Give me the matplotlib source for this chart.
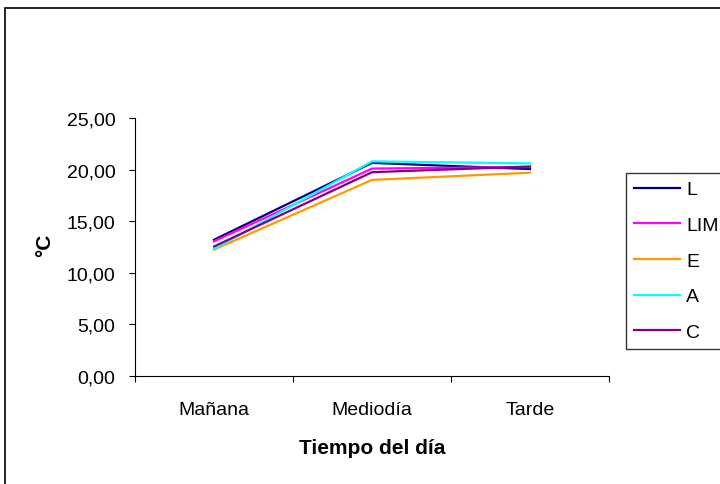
import matplotlib.pyplot as plt
from matplotlib.patches import Rectangle
from matplotlib.ticker import FuncFormatter

plt.rcParams['font.family'] = ['Liberation Sans', 'DejaVu Sans']

momentos = ['Mañana', 'Mediodía', 'Tarde']
L = [13.2, 20.65, 20.05]
LIM = [13.05, 20.1, 20.25]
E = [12.25, 19.0, 19.7]
A = [12.3, 20.8, 20.6]
C = [12.55, 19.75, 20.3]

series = [('L', L, '#000080'), ('LIM', LIM, '#FF00FF'), ('E', E, '#FF9900'),
          ('A', A, '#00FFFF'), ('C', C, '#800080')]

fig = plt.figure(figsize=(7.2, 4.85), dpi=100)
ax = fig.add_axes([135/720, 1 - 377/485, (609-135)/720, (377-119)/485])

# marco exterior del grafico
fig.patches.append(Rectangle((5/720, -0.1), 1.2, 1 - 9/485 + 0.1, transform=fig.transFigure,
                             fill=False, edgecolor='black', linewidth=1.2))

x = [0.5, 1.5, 2.5]
for nombre, vals, col in series:
    ax.plot(x, vals, color=col, lw=1.6, label=nombre)

ax.set_xlim(0, 3)
ax.set_ylim(0, 25)
ax.set_yticks([0, 5, 10, 15, 20, 25])
ax.yaxis.set_major_formatter(FuncFormatter(lambda v, p: f'{v:.2f}'.replace('.', ',')))
ax.set_xticks([0, 1, 2, 3])
ax.set_xticklabels([])
ax.set_xticks(x, minor=True)
ax.set_xticklabels(momentos, minor=True)
ax.tick_params(axis='x', which='minor', length=0, pad=18, labelsize=14)
ax.tick_params(axis='x', which='major', length=4, width=0.8)
ax.tick_params(axis='y', length=4, width=0.8, labelsize=14, pad=10)
for s in ['top', 'right']:
    ax.spines[s].set_visible(False)
for s in ['left', 'bottom']:
    ax.spines[s].set_linewidth(0.8)

fig.text(372/720, 1 - 449/485, 'Tiempo del día', ha='center', va='center',
         fontsize=15, fontweight='bold')
fig.text(45/720, 1 - 245/485, '°C', ha='center', va='center', rotation=90,
         fontsize=15, fontweight='bold')

leg = fig.legend(loc='upper left', bbox_to_anchor=(626/720, 1 - 174/485),
                 frameon=True, fancybox=False, edgecolor='black', fontsize=14,
                 handlelength=2.4, handletextpad=0.3, labelspacing=0.93,
                 borderpad=0.4, borderaxespad=0)
leg.get_frame().set_linewidth(1.0)
for h in leg.get_lines():
    h.set_linewidth(1.6)

fig.savefig('out.png', dpi=100)
